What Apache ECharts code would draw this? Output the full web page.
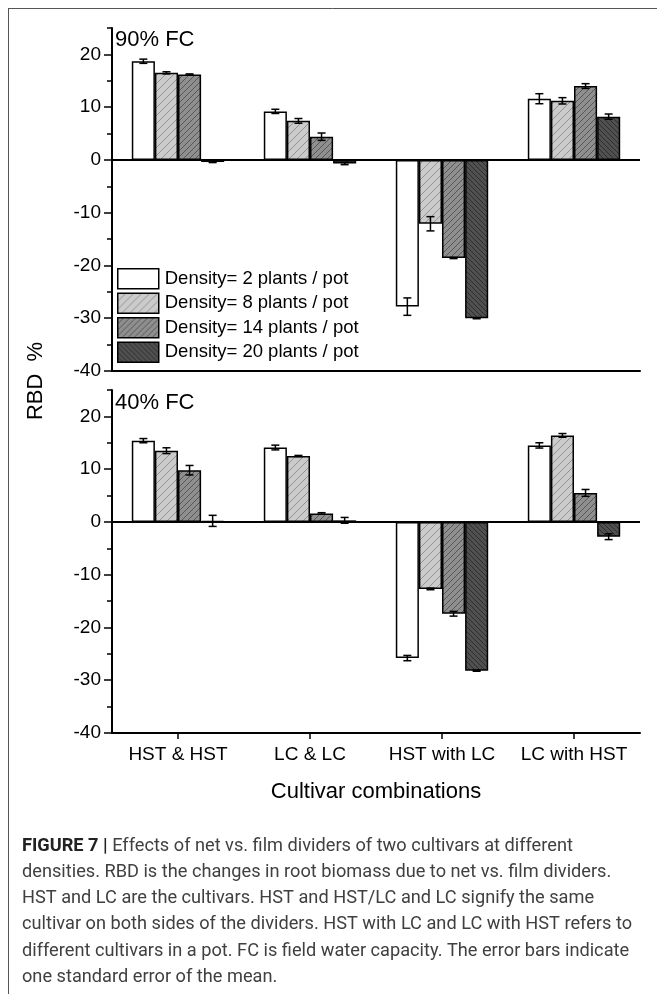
<!DOCTYPE html>
<html>
<head>
<meta charset="utf-8">
<script src="https://cdn.jsdelivr.net/npm/echarts@6/dist/echarts.min.js"></script>
<style>
  html, body { margin: 0; padding: 0; background: #fff; }
  #chart { width: 657px; height: 994px; }
</style>
</head>
<body>
<div id="chart"></div>
<script>
// categories / legend names
var categories = ['HST & HST', 'LC & LC', 'HST with LC', 'LC with HST'];
var densities = ['Density= 2 plants / pot', 'Density= 8 plants / pot', 'Density= 14 plants / pot', 'Density= 20 plants / pot'];
var yLabels = [-40, -30, -20, -10, 0, 10, 20];
var yMinor = [-35, -25, -15, -5, 5, 15, 25];

// 90% FC values (one array per density) and standard errors
var fc90_d2 = [18.7, 9.2, -27.8, 11.6];
var fc90_d8 = [16.5, 7.4, -12.1, 11.2];
var fc90_d14 = [16.2, 4.4, -18.6, 14.0];
var fc90_d20 = [-0.4, -0.7, -30.0, 8.2];
var fc90_e2 = [0.4, 0.4, 1.65, 0.95];
var fc90_e8 = [0.2, 0.45, 1.35, 0.6];
var fc90_e14 = [0.1, 0.7, 0.1, 0.45];
var fc90_e20 = [0.1, 0.2, 0.1, 0.5];

// 40% FC values and standard errors
var fc40_d2 = [15.4, 14.1, -25.8, 14.5];
var fc40_d8 = [13.5, 12.5, -12.7, 16.4];
var fc40_d14 = [9.8, 1.6, -17.4, 5.5];
var fc40_d20 = [0.2, 0.3, -28.2, -2.8];
var fc40_e2 = [0.4, 0.45, 0.5, 0.5];
var fc40_e8 = [0.55, 0.1, 0.15, 0.35];
var fc40_e14 = [0.9, 0.15, 0.45, 0.65];
var fc40_e20 = [1.05, 0.55, 0.1, 0.55];

var FONT = 'Liberation Sans, Arial, sans-serif';

/*hatch patterns*/
function makeHatch(bg, line, size, dir) {
    var c = document.createElement('canvas');
    c.width = size; c.height = size;
    var ctx = c.getContext('2d');
    ctx.fillStyle = bg;
    ctx.fillRect(0, 0, size, size);
    if (!line) return c;
    ctx.strokeStyle = line;
    ctx.lineWidth = 0.9;
    ctx.beginPath();
    for (var k = -1; k <= 1; k++) {
        if (dir > 0) {
            ctx.moveTo(k * size, size); ctx.lineTo(k * size + size, 0);
        } else {
            ctx.moveTo(k * size, 0); ctx.lineTo(k * size + size, size);
        }
    }
    ctx.stroke();
    return c;
}
var fills = [
    '#ffffff',
    { image: makeHatch('#cbcbcb', '#8c8c8c', 8, 1), repeat: 'repeat' },
    { image: makeHatch('#8f8f8f', '#505050', 6, 1), repeat: 'repeat' },
    { image: makeHatch('#505050', '#2a2a2a', 5, -1), repeat: 'repeat' }
];

var panels = [
    { vals: [fc90_d2, fc90_d8, fc90_d14, fc90_d20], errs: [fc90_e2, fc90_e8, fc90_e14, fc90_e20], top: 28 },
    { vals: [fc40_d2, fc40_d8, fc40_d14, fc40_d20], errs: [fc40_e2, fc40_e8, fc40_e14, fc40_e20], top: 390 }
];
var GAP = 0.3;

var grids = [], xAxes = [], yAxes = [], series = [];
panels.forEach(function (p, g) {
    grids.push({ left: 112, right: 17, top: p.top, height: 343 });
    xAxes.push({
        type: 'category', gridIndex: g, data: categories,
        axisLine: { onZero: false, lineStyle: { color: '#000', width: 2 } },
        axisTick: { show: g === 1, alignWithLabel: true, length: 6, lineStyle: { color: '#000', width: 1.5 } },
        axisLabel: { show: g === 1, interval: 0, fontSize: 19, color: '#000', fontFamily: FONT, margin: 12 },
        name: g === 1 ? 'Cultivar combinations' : '',
        nameLocation: 'middle', nameGap: 48,
        nameTextStyle: { fontSize: 22, color: '#000', fontFamily: FONT }
    });
    yAxes.push({
        type: 'value', gridIndex: g, min: -40, max: 25,
        axisLine: { show: true, onZero: false, lineStyle: { color: '#000', width: 2 } },
        axisTick: { show: true, length: 8, customValues: yLabels, lineStyle: { color: '#000', width: 1.5 } },
        axisLabel: { customValues: yLabels, fontSize: 19, color: '#000', fontFamily: FONT, margin: 11 },
        splitLine: { show: false }
    });
    yAxes.push({
        type: 'value', gridIndex: g, min: -40, max: 25, position: 'left',
        axisLine: { show: false },
        axisTick: { show: true, length: 5, customValues: yMinor, lineStyle: { color: '#000', width: 1.5 } },
        axisLabel: { show: false },
        splitLine: { show: false }
    });
    p.vals.forEach(function (vals, i) {
        var s = {
            name: densities[i], type: 'bar', xAxisIndex: g, yAxisIndex: g * 2,
            barGap: '0%', barCategoryGap: (GAP * 100) + '%',
            itemStyle: { color: fills[i], borderColor: '#000', borderWidth: 1.5 },
            data: vals
        };
        if (i === 0) {
            s.markLine = {
                silent: true, symbol: ['none', 'none'], label: { show: false },
                lineStyle: { color: '#000', width: 2, type: 'solid' },
                data: [{ yAxis: 0 }]
            };
        }
        series.push(s);
    });
    p.vals.forEach(function (vals, i) {
        series.push({
            name: densities[i], type: 'custom', xAxisIndex: g, yAxisIndex: g * 2, z: 5,
            data: vals.map(function (v, k) { return [k, v, p.errs[i][k]]; }),
            renderItem: function (params, api) {
                var band = api.size([1, 0])[0];
                var bw = band * (1 - GAP) / 4;
                var c = api.coord([api.value(0), api.value(1)]);
                var cx = c[0] + (i - 1.5) * bw;
                var t = api.coord([api.value(0), api.value(1) + api.value(2)])[1];
                var b = api.coord([api.value(0), api.value(1) - api.value(2)])[1];
                var st = { stroke: '#000', lineWidth: 1.5 };
                return {
                    type: 'group', children: [
                        { type: 'line', shape: { x1: cx, y1: t, x2: cx, y2: b }, style: st },
                        { type: 'line', shape: { x1: cx - 4, y1: t, x2: cx + 4, y2: t }, style: st },
                        { type: 'line', shape: { x1: cx - 4, y1: b, x2: cx + 4, y2: b }, style: st }
                    ]
                };
            }
        });
    });
});

var captionLines = [
    '{b|FIGURE 7 |} Effects of net vs. film dividers of two cultivars at different',
    'densities. RBD is the changes in root biomass due to net vs. film dividers.',
    'HST and LC are the cultivars. HST and HST/LC and LC signify the same',
    'cultivar on both sides of the dividers. HST with LC and LC with HST refers to',
    'different cultivars in a pot. FC is field water capacity. The error bars indicate',
    'one standard error of the mean.'
];
var CAP_FONT = 'Roboto, Liberation Sans, sans-serif';
var CAP_SIZE = 18.2;
var graphics = [
    { type: 'line', shape: { x1: 8, y1: 8.5, x2: 657, y2: 8.5 }, style: { stroke: '#555', lineWidth: 1 } },
    { type: 'line', shape: { x1: 8.5, y1: 8, x2: 8.5, y2: 994 }, style: { stroke: '#555', lineWidth: 1 } },
    { type: 'text', x: 115, y: 40, style: { text: '90% FC', font: '22px ' + FONT, fill: '#000', verticalAlign: 'middle' } },
    { type: 'text', x: 115, y: 403, style: { text: '40% FC', font: '22px ' + FONT, fill: '#000', verticalAlign: 'middle' } },
    { type: 'text', x: 36, y: 381, rotation: Math.PI / 2, style: { text: 'RBD  %', font: '22px ' + FONT, fill: '#000', align: 'center', verticalAlign: 'middle' } }
];
captionLines.forEach(function (t, k) {
    graphics.push({
        type: 'text', x: 22, y: 846 + k * 26.3,
        style: {
            text: t, fontSize: CAP_SIZE, fontFamily: CAP_FONT, fill: '#404040', verticalAlign: 'middle',
            rich: { b: { fontSize: CAP_SIZE, fontFamily: CAP_FONT, fontWeight: 'bold', fill: '#222' } }
        }
    });
});

var myChart = echarts.init(document.getElementById('chart'));
var option = {
    animation: false,
    textStyle: { fontFamily: FONT },
    legend: {
        orient: 'vertical', left: 117, top: 268, padding: 0, itemWidth: 41, itemHeight: 20, itemGap: 3,
        icon: 'rect', data: densities,
        itemStyle: { borderColor: '#000', borderWidth: 1.5 },
        textStyle: { fontSize: 18.5, color: '#000', fontFamily: FONT, padding: [0, 0, 0, 1] }
    },
    grid: grids,
    xAxis: xAxes,
    yAxis: yAxes,
    series: series,
    graphic: graphics
};
myChart.setOption(option);
</script>
</body>
</html>
